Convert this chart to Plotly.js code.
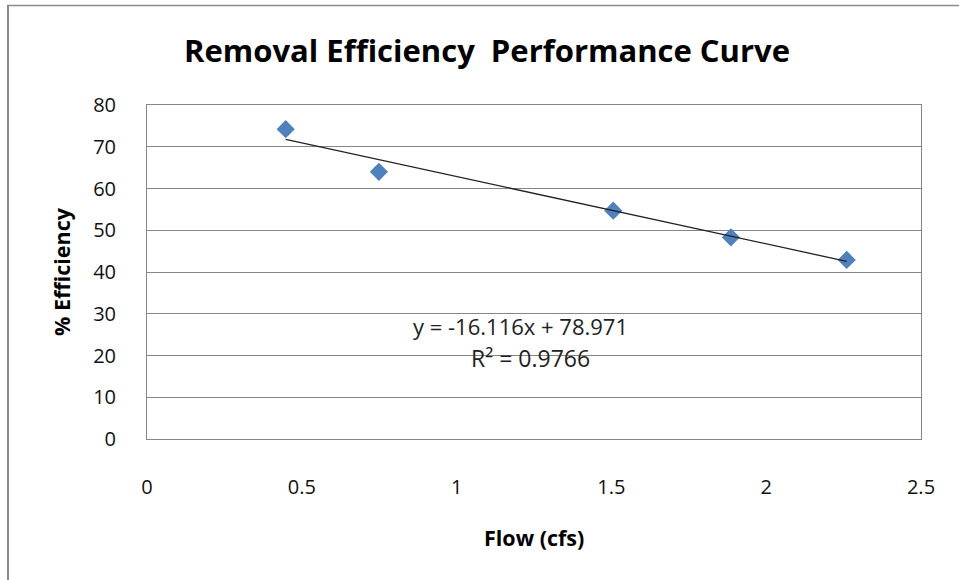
<!DOCTYPE html>
<html>
<head>
<meta charset="utf-8">
<script src="https://cdn.plot.ly/plotly-3.0.1.min.js"></script>
<style>html,body{margin:0;padding:0;background:#fff;}#chart{width:959px;height:580px;}</style>
</head>
<body>
<div id="chart"></div>
<script>
const flow = [0.448, 0.749, 1.506, 1.886, 2.26];
const efficiency = [74.2, 64.0, 54.7, 48.3, 42.9];
const slope = -16.116;
const intercept = 78.971;
const rSquared = 0.9766;
const xTicks = [0, 0.5, 1, 1.5, 2, 2.5];
const xTickLabels = ['0', '0.5', '1', '1.5', '2', '2.5'];
const yTicks = [0, 10, 20, 30, 40, 50, 60, 70, 80];

const FONT = "'Open Sans', 'Noto Sans', sans-serif";
const xMin = Math.min(...flow), xMax = Math.max(...flow);
const trendX = [xMin, xMax];
const trendY = trendX.map(x => slope * x + intercept);

const data = [
  {x: flow, y: efficiency, type: 'scatter', mode: 'markers',
   marker: {symbol: 'diamond', size: 14, color: '#4F81BD', line: {width: 0}}, showlegend: false},
  {x: trendX, y: trendY, type: 'scatter', mode: 'lines',
   line: {color: '#222', width: 1.3}, showlegend: false}
];

const layout = {
  width: 959, height: 580,
  margin: {l: 147, r: 38, t: 105, b: 141},
  paper_bgcolor: '#fff', plot_bgcolor: '#fff',
  font: {family: FONT, color: '#111'},
  title: {text: 'Removal Efficiency  Performance Curve', font: {family: FONT, size: 31, color: '#000', weight: 'bold'},
          x: 487/959, xanchor: 'center', xref: 'container', y: 1 - 51/580, yanchor: 'middle', yref: 'container'},
  xaxis: {range: [0, 2.5], tickvals: xTicks, ticktext: xTickLabels, showgrid: false, zeroline: false,
          showline: true, linecolor: '#868686', linewidth: 1, mirror: true, ticks: '',
          ticklabelstandoff: 30, tickfont: {size: 20, color: '#111', family: FONT}},
  yaxis: {range: [0, 80], tickvals: yTicks, showgrid: true, gridcolor: '#868686', gridwidth: 1, zeroline: false,
          showline: true, linecolor: '#868686', linewidth: 1, mirror: true, ticks: '',
          ticklabelstandoff: 26, tickfont: {size: 20, color: '#111', family: FONT}},
  annotations: [
    {text: '<b>Flow (cfs)</b>', xref: 'paper', yref: 'paper', x: (534-147)/774, y: -(537-439)/334,
     xanchor: 'center', yanchor: 'middle', showarrow: false, font: {size: 21.5, color: '#000', family: FONT}},
    {text: '<b>% Efficiency</b>', xref: 'paper', yref: 'paper', x: -(147-61)/774, y: 0.5, textangle: -90,
     xanchor: 'center', yanchor: 'middle', showarrow: false, font: {size: 21.5, color: '#000', family: FONT}},
    {text: 'y = ' + slope + 'x + ' + intercept, xref: 'paper', yref: 'paper', x: (520-147)/774, y: (439-326)/334,
     xanchor: 'center', yanchor: 'middle', showarrow: false, font: {size: 22, color: '#222', family: FONT}},
    {text: 'R² = ' + rSquared, xref: 'paper', yref: 'paper', x: (530-147)/774, y: (439-358)/334,
     xanchor: 'center', yanchor: 'middle', showarrow: false, font: {size: 23, color: '#222', family: FONT}}
  ],
  shapes: [
    {type: 'line', xref: 'paper', yref: 'paper', x0: -(147-8)/774, x1: -(147-8)/774, y0: (439-5)/334, y1: -(600-439)/334,
     line: {color: '#8a8a8a', width: 2}},
    {type: 'line', xref: 'paper', yref: 'paper', x0: -(147-7)/774, x1: (970-147)/774, y0: (439-5.5)/334, y1: (439-5.5)/334,
     line: {color: '#8a8a8a', width: 1.5}}
  ]
};

Plotly.newPlot('chart', data, layout, {displayModeBar: false, staticPlot: true});
</script>
</body>
</html>
